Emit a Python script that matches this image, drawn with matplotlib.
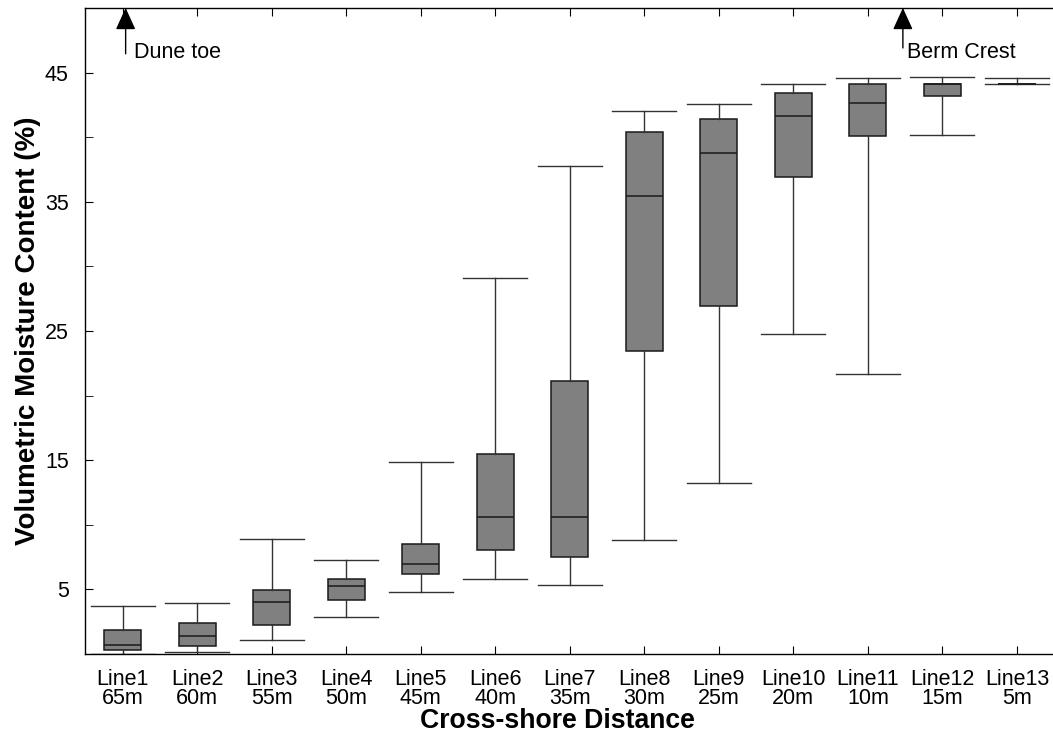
import matplotlib
matplotlib.use("Agg")
import matplotlib.pyplot as plt

plt.rcParams["font.family"] = ["Liberation Sans", "DejaVu Sans"]

# moisture statistics per survey line (%)
lines = ["Line1", "Line2", "Line3", "Line4", "Line5", "Line6", "Line7",
         "Line8", "Line9", "Line10", "Line11", "Line12", "Line13"]
dist = ["65m", "60m", "55m", "50m", "45m", "40m", "35m",
        "30m", "25m", "20m", "10m", "15m", "5m"]
whislo = [0.02, 0.17, 1.10, 2.83, 4.82, 5.77, 5.36, 8.82, 13.26, 24.8, 21.7, 40.2, 44.1]
q1 = [0.28, 0.66, 2.21, 4.15, 6.16, 8.02, 7.50, 23.45, 26.94, 36.95, 40.05, 43.2, 44.1]
med = [0.71, 1.36, 3.99, 5.28, 6.94, 10.62, 10.57, 35.48, 38.81, 41.6, 42.63, 44.15, 44.1]
q3 = [1.90, 2.37, 4.95, 5.77, 8.53, 15.5, 21.13, 40.43, 41.42, 43.4, 44.1, 44.15, 44.1]
whishi = [3.71, 3.97, 8.90, 7.30, 14.88, 29.08, 37.78, 42.06, 42.6, 44.13, 44.54, 44.65, 44.57]

stats = []
for i in range(len(lines)):
    stats.append(dict(whislo=whislo[i], q1=q1[i], med=med[i],
                      q3=q3[i], whishi=whishi[i], fliers=[]))

fig = plt.figure(figsize=(10.53, 7.33), dpi=100)
ax = fig.add_axes([0.0811, 0.1077, 0.920, 0.8815])

pos = list(range(1, len(lines) + 1))
ax.bxp(stats, positions=pos, widths=0.5, capwidths=0.86,
       patch_artist=True, showfliers=False,
       boxprops=dict(facecolor="#808080", edgecolor="#1a1a1a", linewidth=1.1),
       medianprops=dict(color="#1a1a1a", linewidth=1.1),
       whiskerprops=dict(color="#333333", linewidth=1.0),
       capprops=dict(color="#333333", linewidth=1.0))

ax.set_xlim(0.5, 13.5)
ax.set_ylim(0, 50)
ax.set_xticks(pos)
ax.set_xticklabels([f"{a}\n{b}" for a, b in zip(lines, dist)],
                   fontsize=15.5, linespacing=0.85)
ax.set_yticks([5, 15, 25, 35, 45])
ax.set_yticks([10, 20, 30, 40], minor=True)
ax.tick_params(axis="y", which="both", direction="in", length=5.5,
               labelsize=15.5, pad=12, right=False)
ax.tick_params(axis="x", direction="in", length=5.5, top=True, pad=11)

ax.set_xlabel("Cross-shore Distance", fontsize=19.2, fontweight="bold")
ax.xaxis.set_label_coords(0.487, -0.084)
ax.set_ylabel("Volumetric Moisture Content (%)", fontsize=20,
              fontweight="bold", labelpad=3)

for sp in ax.spines.values():
    sp.set_linewidth(1.0)

# beach features marked along the top
arrow = dict(arrowstyle="-|>,head_length=0.68,head_width=0.31",
             color="black", lw=1.0, shrinkA=0, shrinkB=0, mutation_scale=20)
ax.annotate("", xy=(1.04, 50), xytext=(1.04, 46.45), arrowprops=arrow,
            annotation_clip=False)
ax.text(1.15, 46.15, "Dune toe", fontsize=15.5, va="baseline")
ax.annotate("", xy=(11.47, 50), xytext=(11.47, 46.9), arrowprops=arrow,
            annotation_clip=False)
ax.text(11.52, 46.15, "Berm Crest", fontsize=15.5, va="baseline")

fig.savefig("out.png", dpi=100)
